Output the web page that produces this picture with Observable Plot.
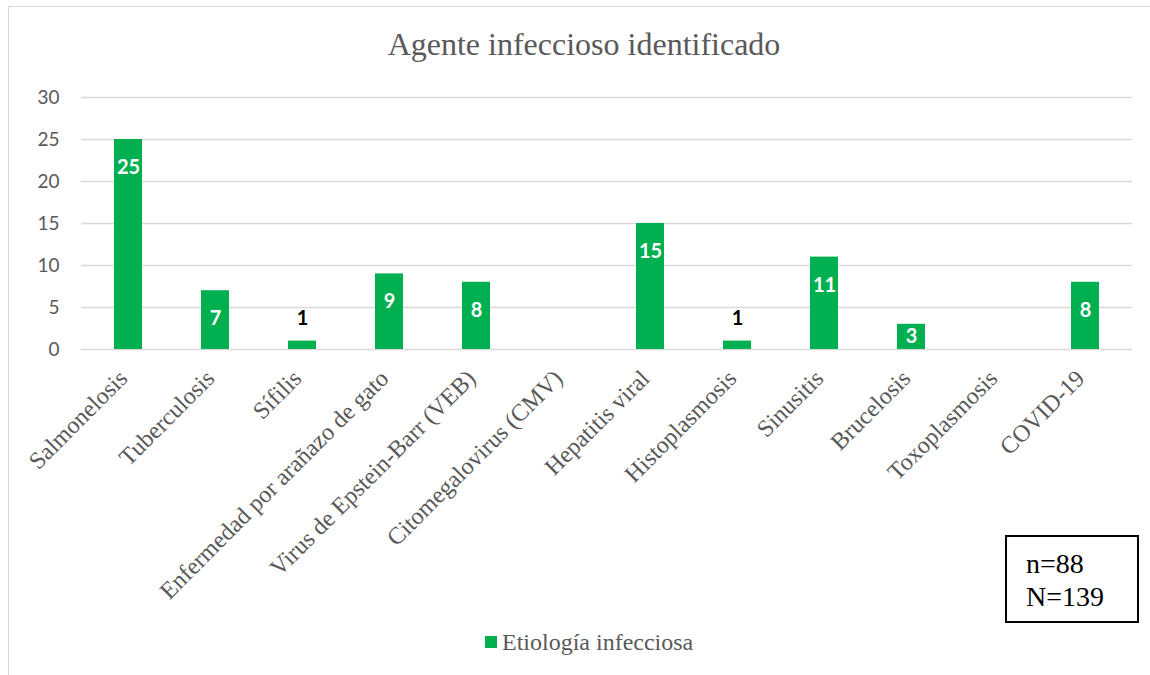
<!DOCTYPE html>
<html>
<head>
<meta charset="utf-8">
<script src="https://cdn.jsdelivr.net/npm/d3@7"></script>
<script src="https://cdn.jsdelivr.net/npm/@observablehq/plot@0.6"></script>
<style>
  html, body { margin: 0; padding: 0; background: #fff; }
  #wrap { position: relative; width: 1150px; height: 675px; overflow: hidden; background: #fff; }
  #frame { position: absolute; left: 8px; top: 6px; width: 1200px; height: 720px; border: 1.5px solid #d9d9d9; box-sizing: border-box; }
  #title { position: absolute; left: 0; width: 1168px; top: 24px; text-align: center; font-family: "Liberation Serif", serif; font-size: 32px; line-height: 40px; color: #595959; }
  #chart { position: absolute; left: 0; top: 0; }
  #legend { position: absolute; left: 485px; top: 627px; font-family: "Liberation Serif", serif; font-size: 24px; line-height: 30px; color: #595959; display: flex; align-items: center; }
  #legend .sw { width: 12px; height: 12px; background: #00b050; margin-right: 5px; }
  #note { position: absolute; left: 1005px; top: 535px; width: 134px; height: 88px; border: 2px solid #000; box-sizing: border-box; font-family: "Liberation Serif", serif; font-size: 28px; color: #000; padding: 10px 0 0 19px; line-height: 33px; }
</style>
</head>
<body>
<div id="wrap">
  <div id="frame"></div>
  <div id="chart"></div>
  <div id="title">Agente infeccioso identificado</div>
  <div id="legend"><div class="sw"></div><span>Etiología infecciosa</span></div>
  <div id="note">n=88<br>N=139</div>
</div>
<script>
const categories = [
  "Salmonelosis", "Tuberculosis", "Sífilis", "Enfermedad por arañazo de gato",
  "Virus de Epstein-Barr (VEB)", "Citomegalovirus (CMV)", "Hepatitis viral",
  "Histoplasmosis", "Sinusitis", "Brucelosis", "Toxoplasmosis", "COVID-19"
];
const values = [25, 7, 1, 9, 8, 0, 15, 1, 11, 3, 0, 8];
const yTicks = [0, 5, 10, 15, 20, 25, 30];

const data = categories.map((c, i) => ({category: c, value: values[i]}));
const shown = data.filter(d => d.value > 0);
const insideTop = shown.filter(d => d.value >= 5);
const insideMid = shown.filter(d => d.value >= 2 && d.value < 5);
const outside = shown.filter(d => d.value < 2);

const labelFont = {fontWeight: "bold", fontSize: 20, fontFamily: "Lato, sans-serif", lineAnchor: "middle"};

const chart = Plot.plot({
  width: 1150,
  height: 620,
  marginLeft: 81,
  marginRight: 18,
  marginTop: 97,
  marginBottom: 271,
  style: {background: "transparent", overflow: "visible"},
  x: {domain: categories, paddingInner: 0.68, paddingOuter: 0.34, label: null},
  y: {domain: [0, 30], label: null},
  marks: [
    Plot.gridY(yTicks, {stroke: "#d9d9d9", strokeOpacity: 1, strokeWidth: 1.5}),
    Plot.barY(data, {x: "category", y: "value", fill: "#00b050"}),
    Plot.axisY(yTicks, {tickSize: 0, tickPadding: 22, fontSize: 19, fontFamily: "Lato, sans-serif", fill: "#595959", label: null}),
    Plot.axisX({tickSize: 0, tickPadding: 25, dx: -5, tickRotate: -45, fontSize: 24, fontFamily: "Liberation Serif, serif", fill: "#595959", label: null}),
    Plot.text(insideTop, {x: "category", y: "value", text: d => String(d.value), dy: 28, fill: "#fff", ...labelFont}),
    Plot.text(insideMid, {x: "category", y: d => d.value / 2, text: d => String(d.value), fill: "#fff", ...labelFont}),
    Plot.text(outside, {x: "category", y: "value", text: d => String(d.value), dy: -23, fill: "#000", ...labelFont})
  ]
});
document.getElementById("chart").appendChild(chart);
</script>
</body>
</html>
